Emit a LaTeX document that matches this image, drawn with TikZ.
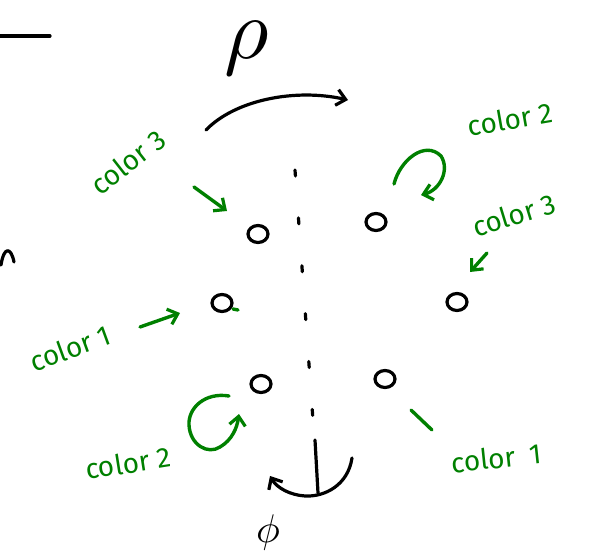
\documentclass[tikz,border=0pt]{standalone}
\usepackage{fontspec}
\setsansfont{Fira Sans}
\usetikzlibrary{arrows.meta,shapes.geometric}
\definecolor{pen}{RGB}{0,128,0}
\tikzset{
  blk/.style={line width=3.2pt, line cap=round, line join=round, black},
  grn/.style={line width=3.4pt, line cap=round, line join=round, pen},
  barb/.style={-{Straight Barb[length=9pt,width=16pt,line width=3.2pt]}},
  atom/.style={draw, blk, ellipse, minimum width=20pt, minimum height=17pt, inner sep=0pt},
  lab/.style={text=pen, font=\sffamily\fontsize{28}{28}\selectfont, inner sep=0pt},
}
\begin{document}
\begin{tikzpicture}[x=1pt,y=-1pt]
\useasboundingbox (0,0) rectangle (598,560);
% top-left stroke and partial letter at edge
\coordinate (ls) at (0,36); \coordinate (le) at (50,36);
\draw[blk] (ls) -- (le);
\draw[blk] (1,265) .. controls (4,246) and (11,247) .. (14,262);
% Greek letters
\node[inner sep=0pt, scale=8.6] (rho) at (247,48) {$\rho$};
\node[inner sep=0pt, scale=4] (phi) at (268,532) {$\phi$};
% atoms
\node[atom] (a1) at (258,234) {};
\node[atom] (a2) at (376,222) {};
\node[atom] (a3) at (222,303) {};
\node[atom] (a4) at (457,302) {};
\node[atom] (a5) at (261,384) {};
\node[atom] (a6) at (385,379) {};
% axis
\coordinate (ax1) at (295,170);
\coordinate (ax2) at (313,420);
\coordinate (ax3) at (315,440);
\coordinate (ax4) at (318,493);
\draw[blk, dash pattern=on 6pt off 42pt] (ax1) -- (ax2);
\draw[blk] (ax3) -- (ax4);
% top rotation arrow
\coordinate (t1) at (206,130); \coordinate (t2) at (348,100);
\draw[blk, barb] (t1) .. controls (235,100) and (295,88) .. (t2);
% bottom rotation arrow
\coordinate (b1) at (352,458); \coordinate (b2) at (270,476);
\draw[blk, barb] (b1) .. controls (348,485) and (325,497) .. (305,496) .. controls (290,495) and (277,488) .. (b2);
% green labels
\node[lab, rotate=38] (c3a) at (128,162) {color 3};
\node[lab, rotate=10] (c2a) at (510,119) {color 2};
\node[lab, rotate=17] (c3b) at (514,215) {color 3};
\node[lab, rotate=20] (c1a) at (70,348) {color 1};
\node[lab, rotate=9] (c2b) at (128,463) {color 2};
\node[lab, rotate=6] (c1b) at (496,458) {color\hspace{14pt}1};
% green arrows
\coordinate (g1s) at (194,187); \coordinate (g1e) at (227,211);
\draw[grn, barb] (g1s) -- (g1e);
\coordinate (g2s) at (487,253); \coordinate (g2e) at (470,272);
\draw[grn, barb] (g2s) -- (g2e);
\coordinate (g3s) at (140,327); \coordinate (g3e) at (180,313);
\draw[grn, barb] (g3s) -- (g3e);
% curly arrow near top-right atom
\coordinate (g4s) at (394,184); \coordinate (g4e) at (421,195);
\draw[grn, barb] (g4s) .. controls (400,160) and (425,140) .. (441,156) .. controls (450,170) and (440,190) .. (g4e);
% curly arrow near bottom-left atom
\coordinate (g5s) at (229,396); \coordinate (g5e) at (239,414);
\draw[grn, barb] (g5s) .. controls (205,392) and (188,408) .. (189,425) .. controls (190,445) and (208,455) .. (220,447) .. controls (232,440) and (237,428) .. (g5e);
% small green marks
\coordinate (m1) at (233,309); \coordinate (m2) at (238,310);
\draw[grn] (m1) -- (m2);
\coordinate (m3) at (411,410); \coordinate (m4) at (432,430);
\draw[grn] (m3) -- (m4);
\end{tikzpicture}
\end{document}
